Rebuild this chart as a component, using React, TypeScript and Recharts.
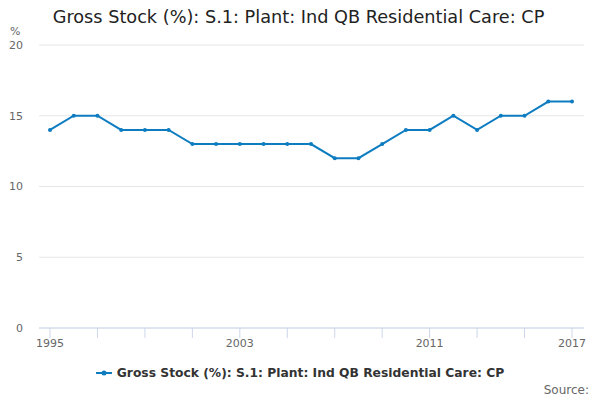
import React from "react";
import { LineChart, Line, XAxis, YAxis, CartesianGrid } from "recharts";

const years = [
  1995, 1996, 1997, 1998, 1999, 2000, 2001, 2002, 2003, 2004, 2005, 2006,
  2007, 2008, 2009, 2010, 2011, 2012, 2013, 2014, 2015, 2016, 2017,
];
const grossStock = [
  14, 15, 15, 14, 14, 14, 13, 13, 13, 13, 13, 13, 12, 12, 13, 14, 14, 15, 14,
  15, 15, 16, 16,
];
const xTicks = [1995, 1997, 1999, 2001, 2003, 2005, 2007, 2009, 2011, 2013, 2015, 2017];
const xLabels = [1995, 2003, 2011, 2017];
const yTicks = [0, 5, 10, 15, 20];

const seriesName = "Gross Stock (%): S.1: Plant: Ind QB Residential Care: CP";
const lineColor = "#0d7cc1";
const font = "'DejaVu Sans', Verdana, sans-serif";

const data = years.map((year, i) => ({ year, value: grossStock[i] }));

const App: React.FC = () => {
  return (
    <div style={{ position: "absolute", left: 0, top: 0, width: 600, height: 400, background: "#fff" }}>
      <div
        style={{
          position: "absolute",
          top: 7,
          left: 0,
          width: 597,
          textAlign: "center",
          fontFamily: font,
          fontSize: 17.7,
          color: "#222",
        }}
      >
        {seriesName}
      </div>
      <div
        style={{ position: "absolute", top: 25, left: 10, fontFamily: font, fontSize: 11, color: "#666" }}
      >
        %
      </div>
      <LineChart
        width={600}
        height={400}
        data={data}
        margin={{ top: 45, right: 16, left: 0, bottom: 42 }}
      >
        <CartesianGrid vertical={false} stroke="#e6e6e6" />
        <XAxis
          dataKey="year"
          type="number"
          domain={[1995, 2017]}
          ticks={xTicks}
          interval={0}
          padding={{ left: 11, right: 12 }}
          tickFormatter={(v: number) => (xLabels.includes(v) ? String(v) : "")}
          stroke="#ccd6eb"
          tickSize={10}
          tickMargin={1}
          height={30}
          tick={{ fill: "#666", fontSize: 11, fontFamily: font }}
        />
        <YAxis
          domain={[0, 20]}
          ticks={yTicks}
          width={39}
          axisLine={false}
          tickLine={false}
          tickSize={0}
          tickMargin={16}
          tick={{ fill: "#666", fontSize: 11, fontFamily: font }}
        />
        <Line
          type="linear"
          dataKey="value"
          name={seriesName}
          stroke={lineColor}
          strokeWidth={2}
          dot={{ r: 2, fill: lineColor, stroke: lineColor, strokeWidth: 0 }}
          activeDot={false}
          isAnimationActive={false}
        />
      </LineChart>
      <div
        style={{
          position: "absolute",
          top: 366,
          left: 0,
          width: 600,
          display: "flex",
          justifyContent: "center",
          alignItems: "center",
          fontFamily: font,
          fontSize: 12.3,
          fontWeight: "bold",
          color: "#333",
        }}
      >
        <svg width={16} height={10} style={{ marginRight: 5 }}>
          <line x1={0} y1={5} x2={16} y2={5} stroke={lineColor} strokeWidth={2} />
          <circle cx={8} cy={5} r={2.5} fill={lineColor} />
        </svg>
        {seriesName}
      </div>
      <div
        style={{
          position: "absolute",
          top: 383,
          right: 11,
          fontFamily: font,
          fontSize: 12,
          color: "#666",
        }}
      >
        Source:
      </div>
    </div>
  );
};

export default App;
